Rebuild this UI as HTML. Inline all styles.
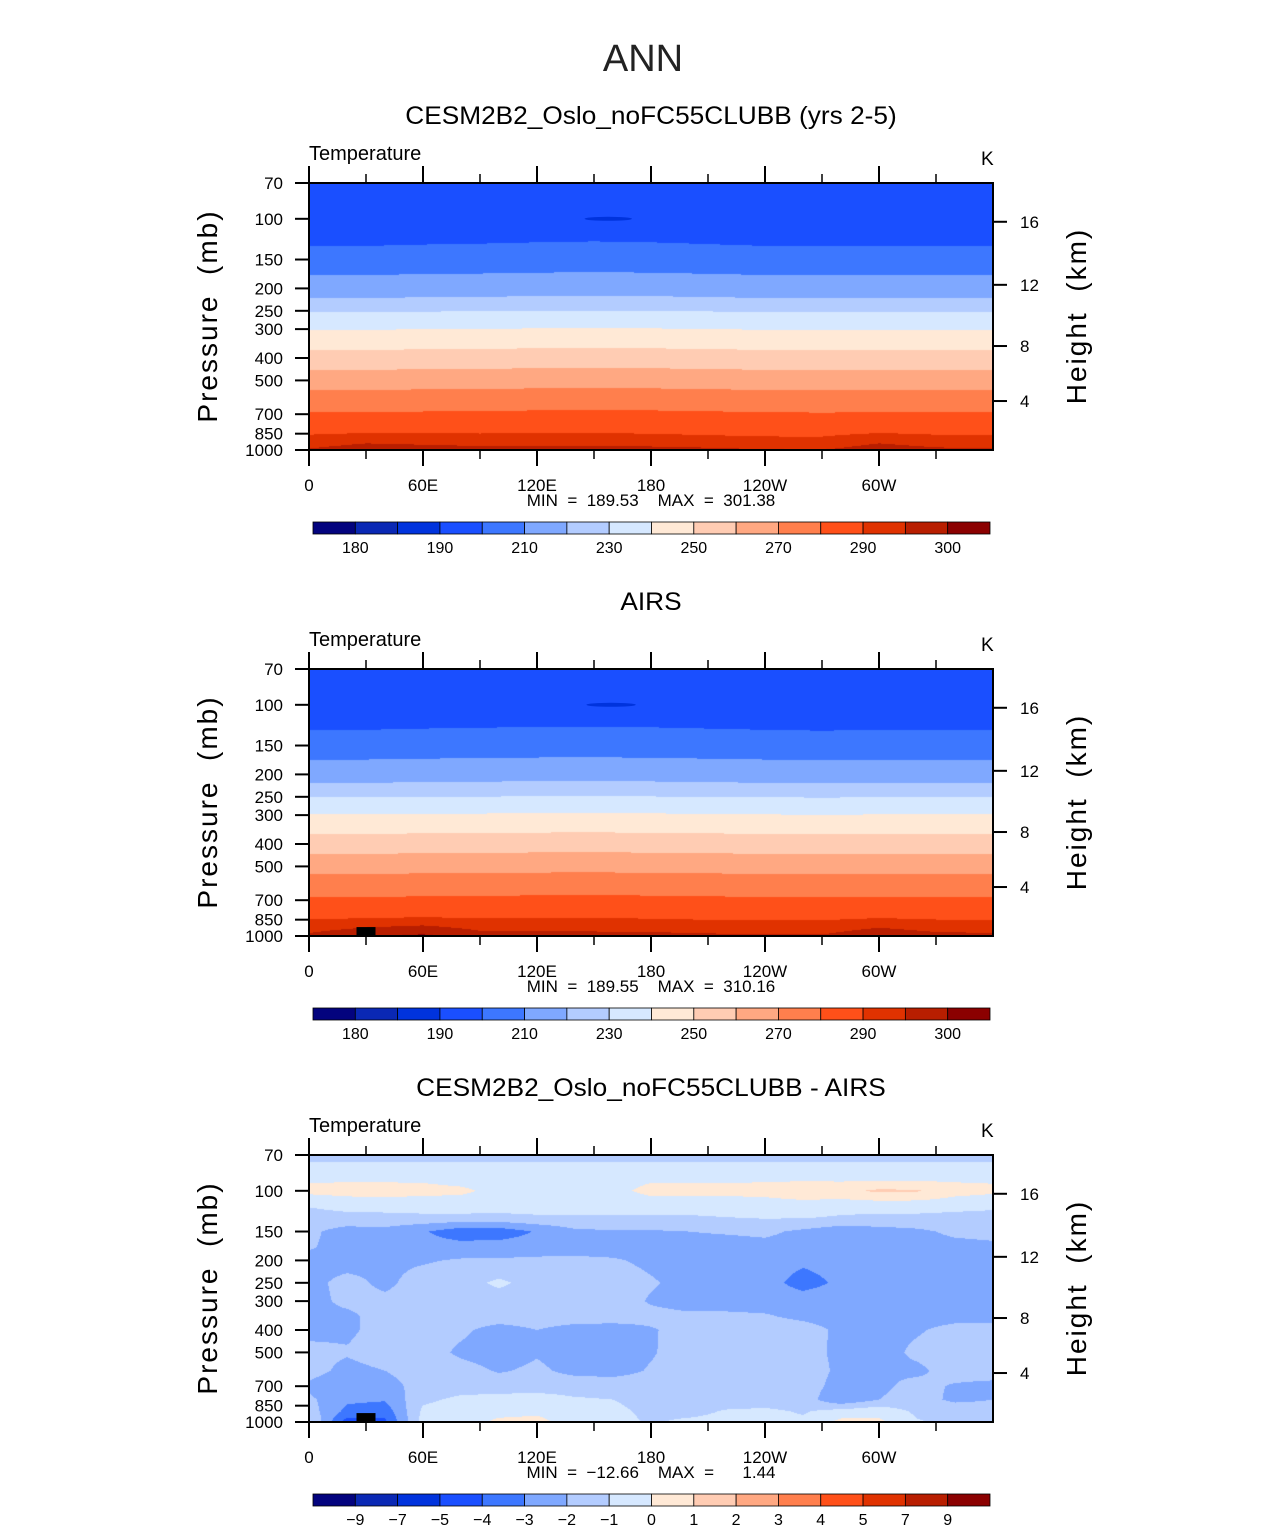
<!DOCTYPE html>
<html><head><meta charset="utf-8">
<style>
html,body{margin:0;padding:0;background:#fff;}
#root{position:relative;width:1285px;height:1531px;overflow:hidden;font-family:"Liberation Sans",sans-serif;}
canvas{position:absolute;}
svg{position:absolute;left:0;top:0;}
.pre{white-space:pre;}
</style></head>
<body>
<div id="root">
<canvas id="c0" width="684" height="267" style="left:309px;top:183px"></canvas>
<canvas id="c1" width="684" height="267" style="left:309px;top:669px"></canvas>
<canvas id="c2" width="684" height="267" style="left:309px;top:1155px"></canvas>
<svg id="ov" width="1285" height="1531"></svg>
</div>
<script>
// ---------- data ----------
const tempLevels=[180,185,190,200,210,220,230,240,250,260,270,280,290,295,300];
const tempTickLabels=["180","","190","","210","","230","","250","","270","","290","","300"];
const diffLevels=[-9,-7,-5,-4,-3,-2,-1,0,1,2,3,4,5,7,9];
const diffTickLabels=["−9","−7","−5","−4","−3","−2","−1","0","1","2","3","4","5","7","9"];
const colors=["#03037e","#0a28b4","#0033dd","#1a4fff","#3d77ff","#7fa8ff","#b3ccff","#d6e8ff","#ffe9d6","#ffccb3","#ffa882","#ff7f4d","#ff5019","#e03200","#b81e00","#8b0000"];

const tLons=[0,30,60,90,120,150,180,210,240,270,300,330,360];
const tPs=[70,100,131,175,220,253,302,369,450,550,686,800,900,1000];
const profileModel=[196,194,200,210,220,230,240,250,260,270,280,287,292.5,296.5];
const profileAirs=[195.5,194,200.5,210.5,220.5,230.5,240.8,251,261,271,280.5,287.5,293,297];
const lonAnomModel=[0,0,0.3,0.5,0.8,1,0.8,0.4,0,-0.2,0,0,0];
const lonAnomAirs=[0,0,0.3,0.5,0.7,0.8,0.6,0.3,0,-0.2,0,0,0];
const surf900Model=[292,293.5,293,292.5,292.5,292.5,292,291.5,291,291,293.5,292,292];
const surf1000Model=[295.5,297.5,297,296.5,296.5,296.8,296.5,296,295.3,295,297.5,296,295.5];
const surf900Airs=[292.5,294,295,293,293,293,292.5,292,292,292,294,292.5,292.5];
const surf1000Airs=[296,299,301,297,296.5,296.5,296.5,296,295.5,295.5,298.5,296.5,296];
const coldSpotLon=[145,170];
const coldSpotLonAirs=[146,172];
const coldSpotP=100;
const missingLon=[25,35];
const missingP=[915,1000];

const dLons=[0,20,40,60,80,100,120,140,160,180,200,220,240,260,280,300,320,340,360];
const dPs=[70,80,90,100,115,130,150,175,200,250,300,350,400,500,600,700,800,900,1000];
const d70=[-1.3,-1.3,-1.3,-1.3,-1.3,-1.3,-1.3,-1.3,-1.3,-1.3,-1.3,-1.3,-1.3,-1.3,-1.3,-1.3,-1.3,-1.3,-1.3];
const d80=[-0.7,-0.7,-0.7,-0.7,-0.7,-0.7,-0.7,-0.7,-0.7,-0.7,-0.7,-0.7,-0.7,-0.7,-0.7,-0.7,-0.7,-0.7,-0.7];
const d90=[-0.1,-0.1,-0.1,-0.1,-0.3,-0.5,-0.5,-0.5,-0.4,-0.1,-0.1,-0.1,-0.1,-0.1,-0.1,-0.1,-0.1,-0.1,-0.1];
const d100=[0.3,0.4,0.4,0.3,0.2,-0.3,-0.1,-0.4,-0.3,0.3,0.3,0.3,0.4,0.9,0.7,1.2,1.1,0.4,0.2];
const d115=[-0.9,-0.6,-0.5,-0.5,-0.5,-0.6,-0.6,-0.6,-0.6,-0.5,-0.5,-0.5,-0.5,-0.5,-0.5,-0.5,-0.5,-0.6,-0.7];
const d130=[-1.4,-1.3,-1.3,-1.2,-1.2,-1.2,-1.1,-1.1,-1.1,-1.1,-1.1,-1.0,-0.9,-0.9,-1.1,-1.2,-1.2,-1.3,-1.4];
const d150=[-1.8,-2.4,-2.3,-2.9,-3.6,-3.6,-2.9,-2.2,-2.1,-2.1,-2.0,-1.9,-1.8,-2.2,-2.6,-2.4,-2.2,-1.8,-1.7];
const d175=[-1.9,-2.4,-2.5,-2.6,-2.6,-2.5,-2.5,-2.4,-2.4,-2.4,-2.4,-2.4,-2.3,-2.4,-2.5,-2.5,-2.4,-2.3,-2.2];
const d200=[-2.3,-2.4,-2.2,-2.1,-1.9,-1.9,-1.8,-1.8,-1.9,-2.2,-2.5,-2.5,-2.5,-2.8,-2.6,-2.5,-2.5,-2.5,-2.5];
const d250=[-2.3,-1.7,-2.2,-1.6,-1.4,-0.8,-1.4,-1.5,-1.5,-1.9,-2.3,-2.4,-2.6,-3.4,-2.8,-2.2,-2.4,-2.4,-2.4];
const d300=[-2.3,-1.8,-1.8,-1.6,-1.5,-1.5,-1.5,-1.5,-1.5,-2.1,-2.4,-2.4,-2.4,-2.5,-2.4,-2.4,-2.4,-2.4,-2.4];
const d350=[-2.2,-2.2,-1.6,-1.5,-1.5,-1.5,-1.5,-1.5,-1.5,-1.7,-1.8,-1.8,-1.9,-2.2,-2.4,-2.4,-2.4,-2.3,-2.3];
const d400=[-2.3,-2.2,-1.6,-1.5,-1.8,-2.4,-2.0,-2.4,-2.5,-2.1,-1.6,-1.5,-1.5,-1.6,-2.2,-2.3,-2.1,-1.7,-1.7];
const d500=[-1.7,-1.9,-1.5,-1.5,-2.2,-2.5,-2.1,-2.5,-2.5,-2.1,-1.5,-1.5,-1.5,-1.5,-2.3,-2.4,-1.8,-1.5,-1.5];
const d600=[-1.6,-2.3,-2.0,-1.5,-1.6,-2.1,-1.8,-2.3,-2.4,-1.9,-1.5,-1.5,-1.5,-1.5,-2.2,-2.1,-2.2,-1.6,-1.5];
const d700=[-2.2,-2.9,-2.4,-1.6,-1.4,-1.4,-1.4,-1.4,-1.4,-1.5,-1.5,-1.5,-1.5,-1.5,-2.4,-2.2,-1.7,-2.1,-2.3];
const d800=[-1.8,-2.8,-2.9,-1.2,-0.8,-0.7,-0.6,-0.9,-1.0,-1.3,-1.4,-1.5,-1.5,-1.5,-2.8,-2.0,-1.6,-2.2,-2.0];
const d900=[-1.5,-3.3,-3.6,-0.8,-0.4,-0.3,-0.2,-0.5,-0.8,-1.2,-1.3,-0.9,-0.8,-1.1,-0.6,-0.3,-1.2,-1.4,-1.6];
const d1000=[-0.8,-4.5,-4.2,-0.6,-0.5,0.2,0.3,-0.5,-0.7,-1.1,-0.8,-0.7,-0.7,-0.8,0.3,0.2,-0.9,-1.3,-1.2];

const pTicks=[70,100,150,200,250,300,400,500,700,850,1000];
const heightKm=[16,12,8,4];
const heightP=[103,193,355,614];
const lonMajor=[0,60,120,180,240,300];
const lonMajorLabels=["0","60E","120E","180","120W","60W"];
const lonMinor=[30,90,150,210,270,330];
const panelTitles=["CESM2B2_Oslo_noFC55CLUBB (yrs 2-5)","AIRS","CESM2B2_Oslo_noFC55CLUBB - AIRS"];
const minMaxText=["MIN  =  189.53    MAX  =  301.38","MIN  =  189.55    MAX  =  310.16","MIN  =  −12.66    MAX  =      1.44"];

// ---------- geometry ----------
const PX0=309,PW=684,PH=267,PTOP=[183,669,1155];
const LP0=Math.log(70),LPR=Math.log(1000/70);
function xOf(lon){return PX0+lon/360*PW;}
function yOf(p,k){return PTOP[k]+(Math.log(p)-LP0)/LPR*PH;}

function buildTempGrid(profile,anom,s900,s1000){
  const g=[];
  for(let j=0;j<tPs.length;j++){
    const row=[];
    for(let i=0;i<tLons.length;i++){
      if(tPs[j]===900)row.push(s900[i]);
      else if(tPs[j]===1000)row.push(s1000[i]);
      else row.push(profile[j]+anom[i]);
    }
    g.push(row);
  }
  return g;
}
const gridModel=buildTempGrid(profileModel,lonAnomModel,surf900Model,surf1000Model);
const gridAirs=buildTempGrid(profileAirs,lonAnomAirs,surf900Airs,surf1000Airs);
const gridDiff=[d70,d80,d90,d100,d115,d130,d150,d175,d200,d250,d300,d350,d400,d500,d600,d700,d800,d900,d1000];

function hex(c){return [parseInt(c.substr(1,2),16),parseInt(c.substr(3,2),16),parseInt(c.substr(5,2),16)];}
const rgb=colors.map(hex);
function findIdx(arr,v){let i=0;while(i<arr.length-2&&arr[i+1]<=v)i++;return i;}

function drawField(id,lons,ps,grid,levels){
  const cv=document.getElementById(id),ctx=cv.getContext('2d');
  const img=ctx.createImageData(PW,PH);
  const lps=ps.map(Math.log);
  for(let py=0;py<PH;py++){
    const lp=LP0+(py+0.5)/PH*LPR;
    const j=findIdx(lps,lp);
    const fy=Math.min(1,Math.max(0,(lp-lps[j])/(lps[j+1]-lps[j])));
    for(let px=0;px<PW;px++){
      const lon=(px+0.5)/PW*360;
      const i=findIdx(lons,lon);
      const fx=(lon-lons[i])/(lons[i+1]-lons[i]);
      const v=(grid[j][i]*(1-fx)+grid[j][i+1]*fx)*(1-fy)+(grid[j+1][i]*(1-fx)+grid[j+1][i+1]*fx)*fy;
      let c=0;while(c<levels.length&&v>=levels[c])c++;
      const o=(py*PW+px)*4,col=rgb[c];
      img.data[o]=col[0];img.data[o+1]=col[1];img.data[o+2]=col[2];img.data[o+3]=255;
    }
  }
  ctx.putImageData(img,0,0);
}
drawField('c0',tLons,tPs,gridModel,tempLevels);
drawField('c1',tLons,tPs,gridAirs,tempLevels);
drawField('c2',dLons,dPs,gridDiff,diffLevels);

// ---------- overlay ----------
const NS="http://www.w3.org/2000/svg";
const ov=document.getElementById('ov');
function el(tag,attrs,parent,text){
  const e=document.createElementNS(NS,tag);
  for(const k in attrs)e.setAttribute(k,attrs[k]);
  if(text!==undefined)e.textContent=text;
  (parent||ov).appendChild(e);return e;
}
const ann=el('text',{x:643,y:71,'font-size':38,'text-anchor':'middle',fill:'#222'},ov,'ANN');



for(let k=0;k<3;k++){
  const g=el('g',{});
  
  
  const T=PTOP[k];
  const t=el('text',{x:651,y:T-59,'font-size':25,'text-anchor':'middle',fill:'#000',transform:`translate(651,0) scale(1.05,1) translate(-651,0)`},g,panelTitles[k]);
  
  
  const tt=el('text',{x:309,y:T-23,'font-size':20,fill:'#000'},g,'Temperature');
  
  
  const ku=el('text',{x:981,y:T-18,'font-size':19,fill:'#000'},g,'K');
  
  
  if(k===0||k===1){
    const lon=(k===0?coldSpotLon:coldSpotLonAirs);
    const cs=el('ellipse',{cx:(xOf(lon[0])+xOf(lon[1]))/2,cy:yOf(coldSpotP,k),rx:(xOf(lon[1])-xOf(lon[0]))/2,ry:2,fill:colors[2]},g);
    
    
  }
  if(k>0){
    const m=el('rect',{x:xOf(missingLon[0]),y:yOf(missingP[0],k),width:xOf(missingLon[1])-xOf(missingLon[0]),height:yOf(missingP[1],k)-yOf(missingP[0],k),fill:'#000'},g);
    
    
  }
  const fr=el('rect',{x:PX0,y:T,width:PW,height:PH,fill:'none',stroke:'#000','stroke-width':2},g);
  
  
  pTicks.forEach(p=>{
    const y=yOf(p,k);
    const l=el('line',{x1:PX0-14,y1:y,x2:PX0,y2:y,stroke:'#000','stroke-width':2},g);
    
    
    const tx=el('text',{x:PX0-26,y:y+6,'font-size':17,'text-anchor':'end',fill:'#000'},g,String(p));
    
    
  });
  heightKm.forEach((h,i)=>{
    const y=yOf(heightP[i],k);
    const l=el('line',{x1:PX0+PW,y1:y,x2:PX0+PW+14,y2:y,stroke:'#000','stroke-width':2},g);
    
    
    const tx=el('text',{x:1020,y:y+6,'font-size':17,fill:'#000'},g,String(h));
    
    
  });
  lonMajor.forEach((lon,i)=>{
    const x=xOf(lon);
    const a=el('line',{x1:x,y1:T-17,x2:x,y2:T,stroke:'#000','stroke-width':2},g);
    
    
    const b=el('line',{x1:x,y1:T+PH,x2:x,y2:T+PH+16,stroke:'#000','stroke-width':2},g);
    
    
    const tx=el('text',{x:x,y:T+PH+41,'font-size':17,'text-anchor':'middle',fill:'#000'},g,lonMajorLabels[i]);
    
    
  });
  lonMinor.forEach(lon=>{
    const x=xOf(lon);
    const a=el('line',{x1:x,y1:T-9,x2:x,y2:T,stroke:'#000','stroke-width':1.5},g);
    
    
    const b=el('line',{x1:x,y1:T+PH,x2:x,y2:T+PH+9,stroke:'#000','stroke-width':1.5},g);
    
    
  });
  const mm=el('text',{x:651,y:T+PH+56,'font-size':17,'text-anchor':'middle',fill:'#000','class':'pre'},g,minMaxText[k]);
  
  
  const yl=el('text',{x:0,y:0,'font-size':28,'text-anchor':'middle',fill:'#000','letter-spacing':'2','class':'pre',transform:`translate(217,${T+133}) rotate(-90)`},g,'Pressure  (mb)');
  
  
  const hl=el('text',{x:0,y:0,'font-size':28,'text-anchor':'middle',fill:'#000','letter-spacing':'2','class':'pre',transform:`translate(1086,${T+133}) rotate(-90)`},g,'Height  (km)');
  
  
  const CY=T+339,CX=313,CW=677,bw=CW/16;
  const cb=el('g',{},g);
  
  
  colors.forEach((c,i)=>{
    const r=el('rect',{x:CX+i*bw,y:CY,width:bw,height:12,fill:c,stroke:'#000','stroke-width':0.8},cb);
    
    
  });
  const labs=(k===2?diffTickLabels:tempTickLabels);
  labs.forEach((s,i)=>{
    if(!s)return;
    const tx=el('text',{x:CX+(i+1)*bw,y:CY+31,'font-size':16,'text-anchor':'middle',fill:'#000'},cb,s);
    
    
  });
}
</script>
</body></html>
